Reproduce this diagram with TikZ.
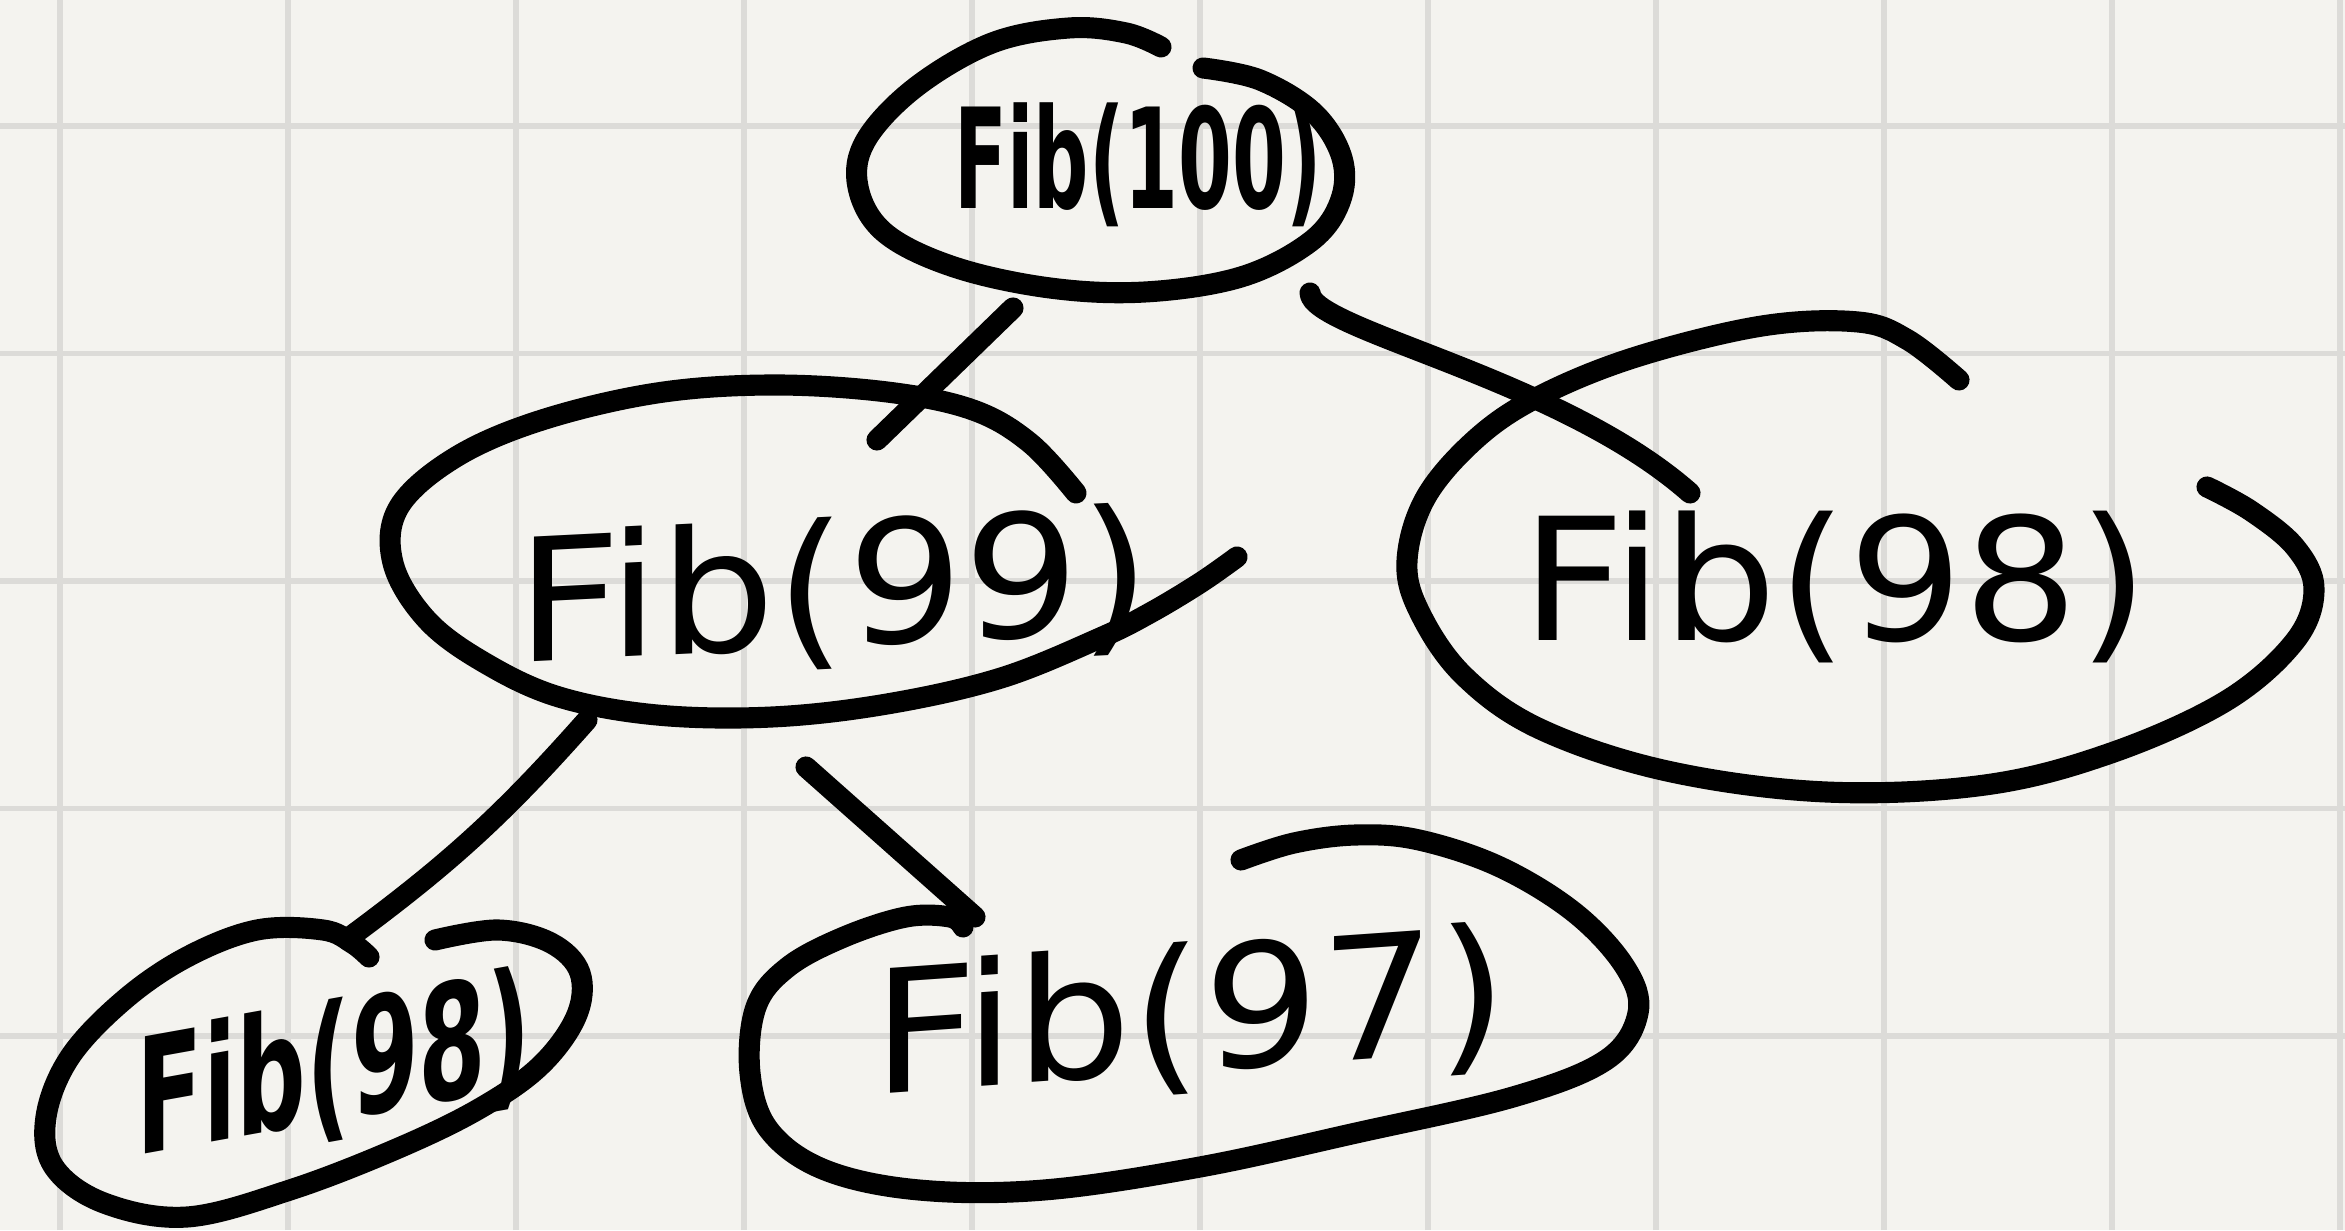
\documentclass[tikz,border=0pt]{standalone}
\usepackage{fontspec}
\setmainfont{DejaVu Sans}
\definecolor{paper}{HTML}{F4F3EF}
\definecolor{gridline}{HTML}{DCDBD8}
\newcommand{\fibfont}[1]{\fontsize{#1}{#1}\selectfont}

\begin{document}
\begin{tikzpicture}[
  x=0.01cm, y=0.01cm,
  pen/.style={draw=black, line width=6pt, line cap=round, line join=round},
  fibtxt/.style={inner sep=0pt},
  gridrule/.style={draw=gridline, line width=1.5pt}
]
% paper with grid
\fill[paper] (0,0) rectangle (2345,1230);
\useasboundingbox (0,0) rectangle (2345,1230);
\foreach \gx in {60,288,...,2340} \draw[gridrule] (\gx,0) -- (\gx,1230);
\foreach \gy in {194,421.5,...,1104} \draw[gridrule] (0,\gy) -- (2345,\gy);

% Top: Fib(100)
\node[fibtxt, font=\bfseries\fibfont{22}, yscale=1.8] (f100) at (1138,1065) {Fib(100)};
\draw[pen] plot[smooth, tension=0.6] coordinates {(1203,1162) (1260,1150) (1314,1117) (1342,1072)
  (1340,1028) (1310,988) (1241,953) (1145,938) (1050,942) (954,963) (885,997)
  (858,1043) (866,1090) (916,1143) (992,1187) (1069,1202) (1126,1197) (1161,1183)};

% Middle left: Fib(99)
\node[fibtxt, font=\fibfont{48.6}, yslant=0.05, xscale=1.07] (f99) at (834,637) {Fib(99)};
\draw[pen] plot[smooth, tension=0.6] coordinates {(1076,737) (1030,787) (973,820) (887,838) (772,845)
  (657,837) (542,810) (456,773) (399,723) (393,667) (427,610) (485,567) (559,533)
  (657,515) (772,513) (887,526) (1001,552) (1100,592) (1150,617)
  (1200,647) (1237,673)};

% Middle right: Fib(98)
\node[fibtxt, font=\fibfont{48.5}, xscale=1.06] (f98a) at (1835,643) {Fib(98)};
\draw[pen] plot[smooth, tension=0.6] coordinates {(1959,850) (1908,890) (1858,908) (1762,904)
  (1636,873) (1540,834) (1477,792) (1426,733) (1407,669) (1420,617) (1464,554)
  (1540,501) (1667,459) (1826,438) (1985,445) (2111,477) (2226,529) (2295,589)
  (2314,641) (2295,683) (2251,719) (2207,743)};

% Bottom right: Fib(97)
\node[fibtxt, font=\fibfont{48.7}, yslant=0.07, xscale=1.07] (f97) at (1190,212) {Fib(97)};
\draw[pen] plot[smooth, tension=0.6] coordinates {(1241,370) (1294,387) (1356,395) (1419,390)
  (1500,363) (1575,317) (1625,263) (1638,217) (1606,170) (1513,133) (1356,97)
  (1200,63) (1044,40) (919,40) (825,60) (769,100) (750,157) (756,223) (788,263)
  (844,293) (906,313) (950,313) (963,303)};

% Bottom left: Fib(98)
\node[fibtxt, font=\bfseries\fibfont{27.7}, yslant=0.18, yscale=1.65] (f98b) at (334,160) {Fib(98)};
\draw[pen] plot[smooth, tension=0.6] coordinates {(435,290) (498,300) (551,287) (580,257) (576,213)
  (539,163) (477,120) (394,80) (290,40) (187,13) (104,27) (54,63) (46,113) (70,173)
  (124,230) (187,273) (257,300) (323,300) (352,287) (369,273)};

% calls
\coordinate (c100a) at (1013,922);
\coordinate (c99a) at (877,790);
\coordinate (c100b) at (1310,937);
\coordinate (c98a) at (1690,737);
\coordinate (c99b) at (587,510);
\coordinate (c98b) at (350,293);
\coordinate (c99c) at (806,463);
\coordinate (c97) at (975,313);
\draw[pen] (c100a) -- (c99a);
\draw[pen] (c100b) .. controls (1312,900) and (1560,852) .. (c98a);
\draw[pen] (c99b) to[bend left=6] (c98b);
\draw[pen] (c99c) -- (c97);
\end{tikzpicture}
\end{document}
